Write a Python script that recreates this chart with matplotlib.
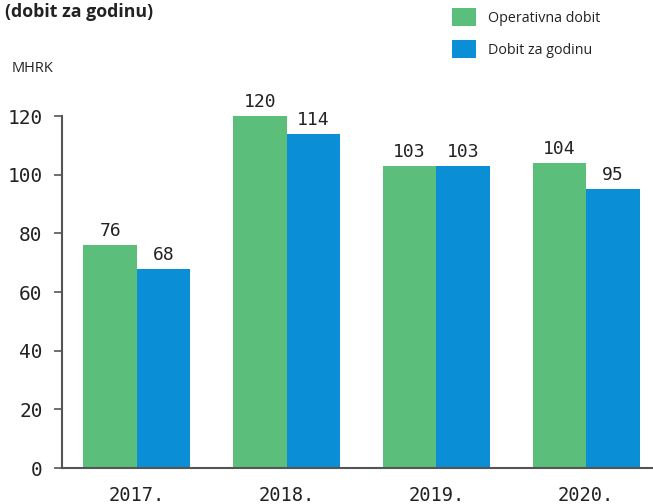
import matplotlib
matplotlib.use("Agg")
import matplotlib.pyplot as plt
import numpy as np

years = ["2017.", "2018.", "2019.", "2020."]
operativna = [76, 120, 103, 104]
dobit = [68, 114, 103, 95]
yticks = [0, 20, 40, 60, 80, 100, 120]

green = "#5bbe7a"
blue = "#0a8ed6"
spine_c = "#555555"
text_c = "#222222"

fig = plt.figure(figsize=(6.53, 5.04), dpi=100)
ax = fig.add_axes([62/653, 36/504, 1 - 62/653, (468 - 116)/504])

x = np.arange(len(years))
w = 0.357
b1 = ax.bar(x - w/2, operativna, w, color=green, label="Operativna dobit")
b2 = ax.bar(x + w/2, dobit, w, color=blue, label="Dobit za godinu")

mono = "DejaVu Sans Mono"
for bars, vals in ((b1, operativna), (b2, dobit)):
    for r, v in zip(bars, vals):
        ax.annotate(f"{v}", (r.get_x() + r.get_width()/2, v), xytext=(0, 3.5),
                    textcoords="offset points", ha="center", va="bottom",
                    fontsize=13, family=mono, color=text_c)

ax.set_xlim(-0.5, 3.447)
ax.set_ylim(0, 120)
ax.set_yticks(yticks)
ax.set_yticklabels([str(t) for t in yticks], family=mono, fontsize=14, color=text_c)
ax.set_xticks(x)
ax.set_xticklabels(years, family=mono, fontsize=13.5, color=text_c)
ax.tick_params(axis="x", length=0, pad=13)
ax.tick_params(axis="y", length=6, width=1.2, color=spine_c, pad=8)
for s in ("top", "right"):
    ax.spines[s].set_visible(False)
for s in ("left", "bottom"):
    ax.spines[s].set_color(spine_c)
    ax.spines[s].set_linewidth(1.5)

fig.text(5/653, 1 - 12/504, "(dobit za godinu)", fontsize=12.8, fontweight="bold",
         family="Open Sans", color=text_c, va="center", ha="left")
fig.text(12/653, 1 - 68/504, "MHRK", fontsize=10.5, family="Open Sans",
         color=text_c, va="center", ha="left")

leg = fig.legend(handles=[b1, b2], loc="upper left", bbox_to_anchor=(452/653, 1 - 8/504),
                 frameon=False, prop={"family": "Open Sans", "size": 10.3},
                 borderpad=0, borderaxespad=0,
                 handlelength=1.68, handleheight=1.6, labelspacing=0.95, handletextpad=0.84)
for t in leg.get_texts():
    t.set_color(text_c)

fig.savefig("out.png", dpi=100)
